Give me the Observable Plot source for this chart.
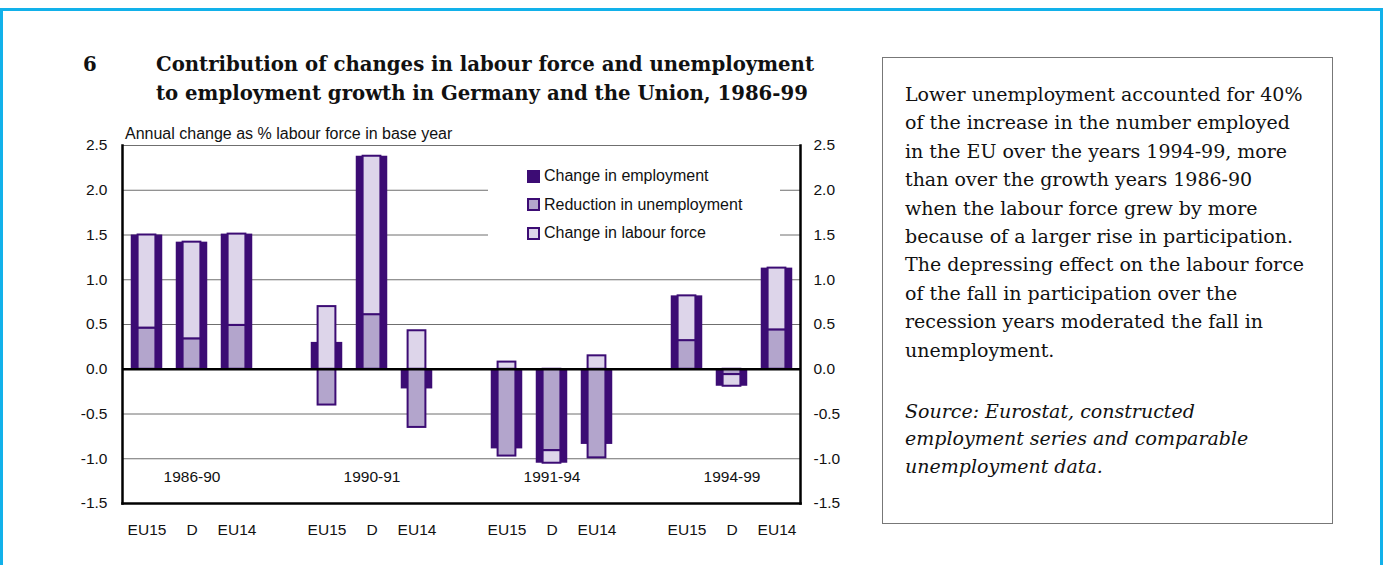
<!DOCTYPE html>
<html><head><meta charset="utf-8">
<script src="https://cdn.jsdelivr.net/npm/d3@7"></script>
<script src="https://cdn.jsdelivr.net/npm/@observablehq/plot@0.6"></script>
<style>
body{margin:0;width:1385px;height:565px;position:relative;background:#fff;overflow:hidden}
#frame{position:absolute;left:0;top:8px;width:1383px;height:700px;border:3px solid #12b1ea;box-sizing:border-box}
#title{position:absolute;left:83px;top:50px;font-family:"DejaVu Serif",serif;font-weight:bold;font-size:19.7px;line-height:29px;color:#111}
#title .num{position:absolute;left:0;top:0}
#title .txt{position:absolute;left:73px;top:0;white-space:nowrap}
#chart{position:absolute;left:0;top:120px}
#ytitle{position:absolute;left:125px;top:125px;font-family:"Liberation Sans",Arial,sans-serif;font-size:16px;color:#111;white-space:nowrap}
#legend{position:absolute;left:488px;top:161px;width:292px;height:94px;background:#fff;font-family:"Liberation Sans",Arial,sans-serif;font-size:16px;color:#111}
#legend .item{position:absolute;left:39px;height:20px;display:flex;align-items:center;white-space:nowrap}
#legend .sw{width:13px;height:13px;box-sizing:border-box;margin-right:4px}
#box{position:absolute;left:882px;top:57px;width:451px;height:467px;border:1.5px solid #777;box-sizing:border-box;font-family:"DejaVu Serif",serif;color:#111}
#box .p{position:absolute;left:22px;top:22px;font-size:19px;line-height:28.4px;white-space:nowrap}
#box .s{position:absolute;left:22px;top:340px;font-size:19px;line-height:27.3px;font-style:italic;white-space:nowrap}
</style></head>
<body>
<div id="frame"></div>
<div id="title"><span class="num">6</span><span class="txt">Contribution of changes in labour force and unemployment<br>to employment growth in Germany and the Union, 1986-99</span></div>
<div id="chart"></div>
<div id="ytitle">Annual change as % labour force in base year</div>
<div id="legend"></div>
<div id="box">
<div class="p">Lower unemployment accounted for 40%<br>of the increase in the number employed<br>in the EU over the years 1994-99, more<br>than over the growth years 1986-90<br>when the labour force grew by more<br>because of a larger rise in participation.<br>The depressing effect on the labour force<br>of the fall in participation over the<br>recession years moderated the fall in<br>unemployment.</div>
<div class="s">Source: Eurostat, constructed<br>employment series and comparable<br>unemployment data.</div>
</div>
<script>
// ---- data ----
const periods = ["1986-90", "1990-91", "1991-94", "1994-99"];
const regions = ["EU15", "D", "EU14"];
const employment = [1.50, 1.42, 1.51, 0.30, 2.38, -0.22, -0.89, -1.05, -0.84, 0.82, -0.19, 1.13];
const unemploymentReduction = [0.46, 0.34, 0.49, -0.40, 0.61, -0.65, -0.97, -0.91, -0.99, 0.32, -0.06, 0.44];
const labourForce = [1.04, 1.08, 1.02, 0.70, 1.77, 0.43, 0.08, -0.14, 0.15, 0.50, -0.13, 0.69];
const yTicks = [-1.5, -1.0, -0.5, 0.0, 0.5, 1.0, 1.5, 2.0, 2.5];
const seriesNames = ["Change in employment", "Reduction in unemployment", "Change in labour force"];

const DARK = "#3c0c74", MED = "#b3a5cc", LIGHT = "#ddd5ea";

// x domain with spacer slots between periods
const domain = [];
periods.forEach((p, i) => {
  regions.forEach(r => domain.push(p + " " + r));
  if (i < periods.length - 1) domain.push("gap" + i);
});
const rows = [];
const stacked = [];
periods.forEach((p, i) => regions.forEach((r, j) => {
  const k = i * 3 + j;
  const key = p + " " + r;
  rows.push({key, period: p, region: r, employment: employment[k]});
  stacked.push({key, series: seriesNames[1], value: unemploymentReduction[k]});
  stacked.push({key, series: seriesNames[2], value: labourForce[k]});
}));
const fmt = d => d.toFixed(1);

const chart = Plot.plot({
  width: 885, height: 445,
  marginLeft: 122, marginRight: 85, marginTop: 25, marginBottom: 62,
  style: {fontFamily: "'Liberation Sans', Arial, sans-serif", fontSize: "15.5px", color: "#111", background: "transparent", overflow: "visible"},
  x: {type: "band", domain, padding: 0, axis: null},
  y: {domain: [-1.5, 2.5], axis: null},
  color: {domain: seriesNames.slice(1), range: [MED, LIGHT]},
  marks: [
    Plot.ruleY(yTicks.filter(t => t !== -1.5 && t !== 0), {stroke: "#6f6f6f", strokeWidth: 1}),
    Plot.barY(rows, {x: "key", y: "employment", fill: DARK, insetLeft: 6.75, insetRight: 6.75}),
    Plot.barY(stacked, {x: "key", y: "value", fill: "series", z: "series", stroke: DARK, strokeWidth: 2, insetLeft: 13.6, insetRight: 13.6}),
    Plot.ruleY([0], {stroke: "#000", strokeWidth: 2.5}),
    Plot.frame({anchor: "left", stroke: "#000", strokeWidth: 2.5}),
    Plot.frame({anchor: "right", stroke: "#000", strokeWidth: 2.5}),
    Plot.frame({anchor: "bottom", stroke: "#000", strokeWidth: 2.5}),
    Plot.axisY(yTicks, {anchor: "left", label: null, tickSize: 0, tickPadding: 15, tickFormat: fmt, fontSize: 15.5}),
    Plot.axisY(yTicks, {anchor: "right", label: null, tickSize: 0, tickPadding: 13, tickFormat: fmt, fontSize: 15.5}),
    Plot.axisX(domain.filter(d => !d.startsWith("gap")), {anchor: "bottom", label: null, tickSize: 0, tickPadding: 20, tickFormat: d => d.split(" ")[1], fontSize: 15.5}),
    Plot.text(periods, {x: (d) => d + " D", text: d => d, frameAnchor: "bottom", dy: -22, fontSize: 15.5})
  ]
});
document.getElementById("chart").appendChild(chart);

// legend
const legend = document.getElementById("legend");
const swatchStyles = [
  `background:${DARK}`,
  `background:${MED};border:2px solid ${DARK}`,
  `background:${LIGHT};border:2px solid ${DARK}`
];
seriesNames.forEach((name, i) => {
  const it = document.createElement("div");
  it.className = "item";
  it.style.top = (5 + i * 28.5) + "px";
  it.innerHTML = `<div class="sw" style="${swatchStyles[i]}"></div><span>${name}</span>`;
  legend.appendChild(it);
});
</script>
</body></html>
